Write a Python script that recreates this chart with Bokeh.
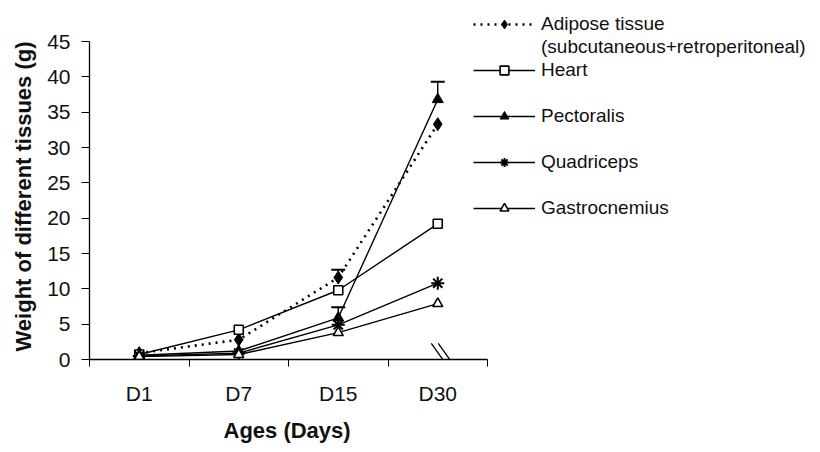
from bokeh.plotting import figure
from bokeh.models import (Range1d, FixedTicker, Legend, LegendItem, Whisker,
                          ColumnDataSource, Title)
from bokeh.embed import file_html
from bokeh.resources import INLINE

days = ["D1", "D7", "D15", "D30"]
xpos = [1, 2, 3, 4]
adipose = [0.9, 2.8, 11.6, 33.3]
heart = [0.7, 4.2, 9.8, 19.2]
pectoralis = [0.6, 1.2, 5.9, 36.8]
quadriceps = [0.5, 0.9, 4.9, 10.8]
gastrocnemius = [0.4, 0.7, 3.8, 7.9]
adipose_err = [0.0, 0.0, 1.1, 0.0]
pectoralis_err = [0.0, 0.0, 1.5, 2.5]
y_ticks = list(range(0, 50, 5))

FONT = "Liberation Sans"

# layout targets (pixels): axes box 89..487 x 41..359; frame extended to hold the legend
W, H = 810, 450
AX_L, AX_R, AX_T, AX_B = 89, 487, 41, 359
X0, X1 = 0.5, 4.5
Y0, Y1 = 0, 45
x_end = X0 + (X1 - X0) * (W - AX_L) / (AX_R - AX_L)
y_end = Y0 + (Y1 - Y0) * AX_B / (AX_B - AX_T)

p = figure(width=W, height=H, x_range=Range1d(X0, x_end), y_range=Range1d(Y0, y_end),
           output_backend="svg", toolbar_location=None,
           min_border_left=AX_L, min_border_right=0, min_border_top=0,
           min_border_bottom=H - AX_B)
p.outline_line_color = None
p.xgrid.visible = False
p.ygrid.visible = False
p.background_fill_color = "white"
p.border_fill_color = "white"

# axes
xa = p.xaxis[0]
xa.bounds = (X0, X1)
xa.ticker = FixedTicker(ticks=xpos, minor_ticks=[v - 0.5 for v in xpos] + [xpos[-1] + 0.5])
xa.major_label_overrides = {x: d for x, d in zip(xpos, days)}
xa.major_tick_in = 0
xa.major_tick_out = 0
xa.minor_tick_in = 0
xa.minor_tick_out = 7
xa.minor_tick_line_color = "black"
xa.axis_line_color = "black"
xa.axis_line_width = 1.3
xa.major_label_text_font = FONT
xa.major_label_text_font_size = "21px"
xa.major_label_text_color = "#111111"
xa.major_label_standoff = 15

ya = p.yaxis[0]
ya.bounds = (Y0, Y1)
ya.ticker = FixedTicker(ticks=y_ticks)
ya.major_tick_in = 0
ya.major_tick_out = 8
ya.minor_tick_line_color = None
ya.axis_line_color = "black"
ya.axis_line_width = 1.3
ya.major_label_text_font = FONT
ya.major_label_text_font_size = "21px"
ya.major_label_text_color = "#111111"
ya.major_label_standoff = 11

# axis titles placed as side titles so they centre on the axes box, not the frame
p.add_layout(Title(text="Ages (Days)", align="left", offset=134,
                   text_font=FONT, text_font_size="22px", text_font_style="bold",
                   text_color="#111111", standoff=16), "below")
p.add_layout(Title(text="Weight of different tissues (g)", align="left", offset=8,
                   text_font=FONT, text_font_size="22px", text_font_style="bold",
                   text_color="#111111", standoff=17), "left")

LW = 1.4

# series lines
l_ad = p.line(xpos, adipose, line_color="black", line_width=2.6, line_dash="2 5")
l_he = p.line(xpos, heart, line_color="black", line_width=LW)
l_pe = p.line(xpos, pectoralis, line_color="black", line_width=LW)
l_qu = p.line(xpos, quadriceps, line_color="black", line_width=LW)
l_ga = p.line(xpos, gastrocnemius, line_color="black", line_width=LW)

# error bars (upper only)
def err_source(vals, errs):
    keep = [i for i, e in enumerate(errs) if e > 0]
    return ColumnDataSource(dict(x=[xpos[i] for i in keep],
                                 lo=[vals[i] for i in keep],
                                 up=[vals[i] + errs[i] for i in keep]))

for src in (err_source(adipose, adipose_err), err_source(pectoralis, pectoralis_err)):
    w = Whisker(source=src, base="x", lower="lo", upper="up", dimension="height",
                line_color="black", line_width=LW, lower_head=None)
    w.upper_head.size = 14
    w.upper_head.line_color = "black"
    w.upper_head.line_width = 2
    p.add_layout(w)

# markers
m_ad = p.scatter(xpos, adipose, marker="diamond", size=13, fill_color="black", line_color="black")
m_he = p.scatter(xpos, heart, marker="square", size=9, fill_color="white", line_color="black", line_width=1.6)
m_pe = p.scatter(xpos, pectoralis, marker="triangle", size=11, fill_color="black", line_color="black")
m_qu = p.scatter(xpos, quadriceps, marker="asterisk", size=13, line_color="black", line_width=2)
m_ga = p.scatter(xpos, gastrocnemius, marker="triangle", size=10, fill_color="white", line_color="black", line_width=1.6)

# axis break mark at D30
p.scatter([xpos[-1] + 0.005, xpos[-1] + 0.075], [0.9, 0.9], marker="dash", size=24, angle=-0.95,
          line_color="black", line_width=1.3)

# invisible renderer for continuation / spacer legend rows
blank = p.line([], [], line_alpha=0)

legend = Legend(items=[
    LegendItem(label="Adipose tissue", renderers=[l_ad, m_ad]),
    LegendItem(label="(subcutaneous+retroperitoneal)", renderers=[blank]),
    LegendItem(label="Heart", renderers=[l_he, m_he]),
    LegendItem(label=" ", renderers=[blank]),
    LegendItem(label="Pectoralis", renderers=[l_pe, m_pe]),
    LegendItem(label=" ", renderers=[blank]),
    LegendItem(label="Quadriceps", renderers=[l_qu, m_qu]),
    LegendItem(label=" ", renderers=[blank]),
    LegendItem(label="Gastrocnemius", renderers=[l_ga, m_ga]),
], location=(473 - AX_L, AX_B - 219))
legend.padding = 0
legend.margin = 0
legend.spacing = 1
legend.glyph_width = 62
legend.glyph_height = 22
legend.label_height = 22
legend.label_standoff = 6
legend.label_text_font = FONT
legend.label_text_font_size = "19px"
legend.label_text_color = "#111111"
legend.border_line_color = None
legend.background_fill_alpha = 0
p.add_layout(legend, "center")

open("out.html", "w").write(file_html(p, INLINE))
